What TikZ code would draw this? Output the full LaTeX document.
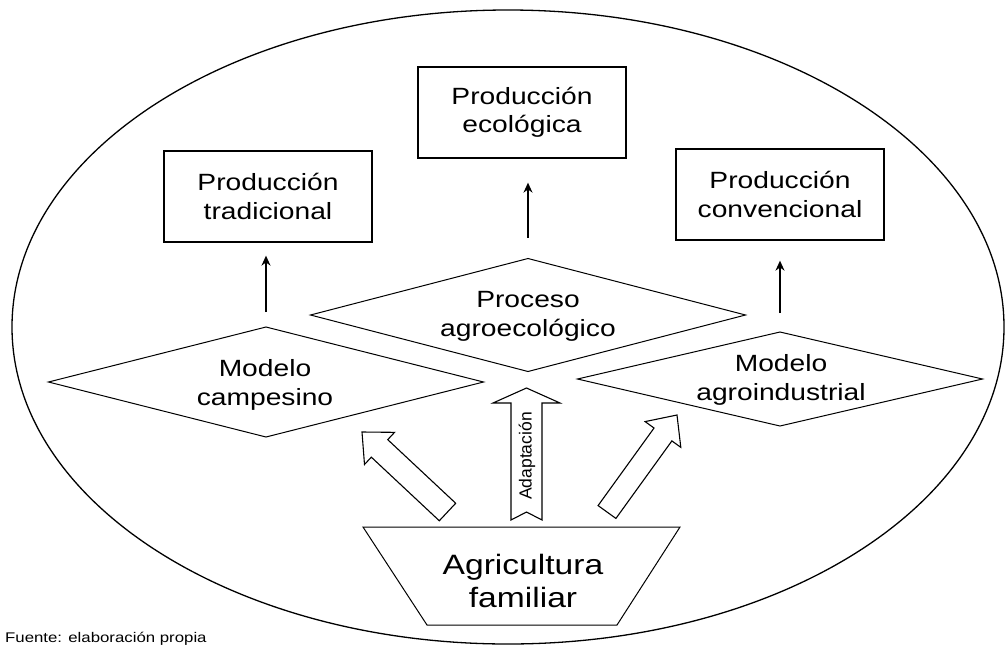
\documentclass[tikz,border=0pt]{standalone}
\usepackage{fontspec}
\setmainfont{Liberation Sans}[FakeStretch=1.2]
\newfontfamily\plainfont{Liberation Sans}
\usetikzlibrary{shapes.geometric,calc,arrows.meta}

\tikzset{
  prodbox/.style={draw, line width=1.3pt, minimum width=208pt, minimum height=91pt,
    inner sep=0pt, align=center, font=\fontsize{23.5}{28.5}\selectfont},
  dia/.style={draw, diamond, line width=1pt, inner sep=0pt, outer sep=0pt},
  diatext/.style={align=center, inner sep=0pt, font=\fontsize{23.5}{29}\selectfont},
  thinarrow/.style={line width=1.5pt, -{Stealth[length=10pt,width=9pt]}},
  blockarr/.style={draw, fill=white, line width=1.1pt, line join=miter},
}

% block arrow: #1 tail, #2 tip, #3 shaft half width, #4 head half width, #5 head length, #6 tail notch
\newcommand\blockarrowdraw[6]{%
  \path coordinate (#1-hb) at ($(#2)!#5!(#1)$)
        coordinate (#1-nt) at ($(#1)!#6!(#2)$);
  \draw[blockarr]
    ($(#1)!#3!90:(#2)$) --
    ($(#1-hb)!#3!90:(#2)$) --
    ($(#1-hb)!#4!90:(#2)$) --
    (#2) --
    ($(#1-hb)!#4!-90:(#2)$) --
    ($(#1-hb)!#3!-90:(#2)$) --
    ($(#1)!#3!-90:(#2)$) --
    (#1-nt) -- cycle;
}

\begin{document}
\begin{tikzpicture}[x=1pt,y=-1pt]
\useasboundingbox (0,0) rectangle (1007,646);
\fill[white] (0,0) rectangle (1007,646);

% outer ellipse
\draw[line width=1.3pt] (508,327) ellipse [x radius=496pt, y radius=317pt];

% production boxes
\node[prodbox] (trad) at (268,196.5) {Producción\\tradicional};
\node[prodbox] (eco)  at (522,112.5) {Producción\\ecológica};
\node[prodbox] (conv) at (780,194.5) {Producción\\convencional};

% diamonds
\node[dia, minimum width=435pt, minimum height=113pt] (proc) at (528,315) {};
\node[diatext] (proctxt) at (528,316) {Proceso\\agroecológico};

\node[dia, minimum width=435pt, minimum height=110pt] (camp) at (266,382) {};
\node[diatext] (camptxt) at (265,385) {Modelo\\campesino};

\node[dia, minimum width=405pt, minimum height=94pt] (agro) at (780,379) {};
\node[diatext] (agrotxt) at (781,380) {Modelo\\agroindustrial};

% thin arrows
\draw[thinarrow, shorten <=15pt, shorten >=13pt] (camp.north) -- (camp.north |- trad.south);
\draw[thinarrow, shorten <=21pt, shorten >=24pt] (proc.north) -- (proc.north |- eco.south);
\draw[thinarrow, shorten <=19pt, shorten >=20pt] (agro.north) -- (agro.north |- conv.south);

% Agricultura familiar trapezoid
\draw[line width=1pt] (363,527) coordinate (tl) -- (680,527) coordinate (tr)
  -- (617,625) coordinate (br) -- (427,625) coordinate (bl) -- cycle;
\node[align=center, inner sep=0pt, font=\fontsize{28}{33}\selectfont] (agri) at (523,581) {Agricultura\\familiar};

% block arrows
\coordinate (vt) at (526.5,520);
\coordinate (vp) at (526.5,388);
\coordinate (lt) at (447.5,512);
\coordinate (lp) at (362,432);
\coordinate (rt) at (607,512);
\coordinate (rp) at (677,415);
\blockarrowdraw{vt}{vp}{15.5pt}{33.5pt}{15pt}{8pt}
\blockarrowdraw{lt}{lp}{12pt}{22pt}{24pt}{0pt}
\blockarrowdraw{rt}{rp}{11pt}{22pt}{24pt}{0pt}
\node[rotate=90, inner sep=0pt, font=\plainfont\fontsize{17.5}{19}\selectfont] (adapt) at (527,456) {Adaptación};

% source note
\node[anchor=base west, inner sep=0pt, font=\fontsize{14}{16}\selectfont] (fuente) at (5,642) {Fuente: elaboración propia};
\end{tikzpicture}
\end{document}
